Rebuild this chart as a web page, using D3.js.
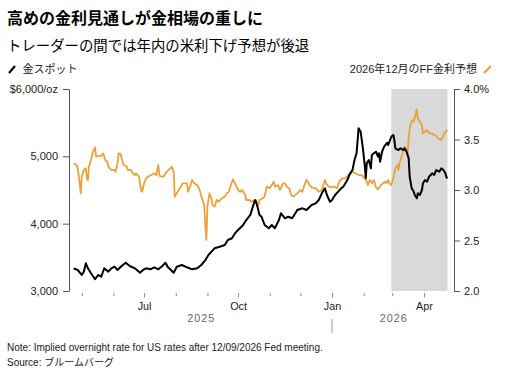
<!DOCTYPE html>
<html><head><meta charset="utf-8">
<script src="https://cdn.jsdelivr.net/npm/d3@7"></script>
<style>
body{margin:0;background:#fff}
svg{display:block}
text{font-family:"Liberation Sans",Arial,"Noto Sans CJK JP",sans-serif}
</style>
</head><body><svg id="c" width="508" height="379"></svg>
<script>
const titleText = "高めの金利見通しが金相場の重しに";
const subtitleText = "トレーダーの間では年内の米利下げ予想が後退";
const goldLabel = "金スポット";
const rateLabel = "2026年12月のFF金利予想";
const noteText = "Note: Implied overnight rate for US rates after 12/09/2026 Fed meeting.";
const sourceText = "Source: ブルームバーグ";

const goldDates = [
 "2025-04-23","2025-04-27","2025-05-01","2025-05-03","2025-05-05","2025-05-07","2025-05-10","2025-05-14","2025-05-17","2025-05-20","2025-05-23","2025-05-27","2025-05-30",
 "2025-06-02","2025-06-05","2025-06-09","2025-06-13","2025-06-17","2025-06-22","2025-06-27","2025-06-30",
 "2025-07-03","2025-07-07","2025-07-11","2025-07-15","2025-07-18","2025-07-22","2025-07-24","2025-07-30",
 "2025-08-02","2025-08-07","2025-08-12","2025-08-17","2025-08-22","2025-08-26","2025-08-30",
 "2025-09-02","2025-09-05","2025-09-08","2025-09-13","2025-09-18","2025-09-21","2025-09-25","2025-09-28",
 "2025-10-01","2025-10-06","2025-10-09","2025-10-13","2025-10-15","2025-10-17","2025-10-18","2025-10-20","2025-10-22","2025-10-24","2025-10-27","2025-10-31",
 "2025-11-03","2025-11-06","2025-11-10","2025-11-12","2025-11-16","2025-11-19","2025-11-23","2025-11-28",
 "2025-12-03","2025-12-07","2025-12-12","2025-12-16","2025-12-19","2025-12-22","2025-12-25","2025-12-27","2025-12-30",
 "2026-01-01","2026-01-04","2026-01-07","2026-01-10","2026-01-12","2026-01-16","2026-01-18","2026-01-21","2026-01-23","2026-01-25","2026-01-27","2026-01-29","2026-01-31",
 "2026-02-02","2026-02-03","2026-02-04","2026-02-06","2026-02-08","2026-02-09","2026-02-11","2026-02-13","2026-02-15","2026-02-16","2026-02-17","2026-02-19","2026-02-21","2026-02-24","2026-02-25","2026-02-28",
 "2026-03-02","2026-03-03","2026-03-04","2026-03-07","2026-03-09","2026-03-12","2026-03-13","2026-03-15","2026-03-17","2026-03-18","2026-03-20","2026-03-22","2026-03-23","2026-03-25","2026-03-26","2026-03-28","2026-03-30","2026-03-31",
 "2026-04-02","2026-04-04","2026-04-06","2026-04-09","2026-04-11","2026-04-13","2026-04-16","2026-04-18","2026-04-20","2026-04-22","2026-04-23","2026-04-24"
];
const goldValues = [
 3337,3312,3238,3287,3411,3337,3263,3174,3238,3212,3337,3287,3337,
 3361,3312,3371,3420,3371,3337,3272,3312,
 3337,3322,3352,3322,3361,3420,3361,3272,
 3361,3386,3352,3322,3337,3386,3460,
 3535,3584,3634,3658,3683,3757,3783,3857,
 3906,3980,4054,4129,4228,4326,4351,4252,4129,4103,3980,3931,
 3980,3931,4054,4154,4080,4103,4080,4203,
 4228,4203,4277,4302,4351,4451,4525,4426,4326,
 4351,4426,4475,4525,4549,4648,4723,4797,4945,5045,5416,5366,5143,
 4871,4674,4896,4945,4822,5020,5045,5069,4995,5045,4920,5069,5143,5202,5168,5291,
 5317,5242,5119,5094,5119,5094,5119,5069,4971,4697,4525,4475,4426,4377,4451,4426,4500,4599,
 4648,4623,4697,4748,4723,4797,4772,4822,4797,4748,4688,4674
];

const rateDates = [
 "2025-04-23","2025-04-26","2025-04-27","2025-04-29","2025-04-30","2025-05-01","2025-05-03","2025-05-05","2025-05-06","2025-05-07","2025-05-08","2025-05-10","2025-05-12","2025-05-14","2025-05-15","2025-05-18","2025-05-20","2025-05-22","2025-05-24","2025-05-26","2025-05-27","2025-05-30",
 "2025-06-02","2025-06-03","2025-06-05","2025-06-06","2025-06-08","2025-06-09","2025-06-11","2025-06-14","2025-06-15","2025-06-18","2025-06-20","2025-06-22","2025-06-23","2025-06-26","2025-06-28","2025-06-29",
 "2025-07-01","2025-07-03","2025-07-06","2025-07-08","2025-07-11","2025-07-13","2025-07-15","2025-07-16","2025-07-20","2025-07-22","2025-07-25","2025-07-28","2025-07-30","2025-07-31",
 "2025-08-02","2025-08-05","2025-08-08","2025-08-12","2025-08-13","2025-08-15","2025-08-17","2025-08-19","2025-08-22","2025-08-23","2025-08-25","2025-08-26","2025-08-28","2025-08-29","2025-08-30","2025-08-31",
 "2025-09-01","2025-09-03","2025-09-05","2025-09-06","2025-09-08","2025-09-10","2025-09-12","2025-09-15","2025-09-18","2025-09-20","2025-09-22","2025-09-24","2025-09-26","2025-09-28",
 "2025-10-01","2025-10-03","2025-10-05","2025-10-08","2025-10-09","2025-10-12","2025-10-14","2025-10-17","2025-10-19","2025-10-21","2025-10-22","2025-10-25","2025-10-27","2025-10-29",
 "2025-11-01","2025-11-03","2025-11-05","2025-11-06","2025-11-09","2025-11-11","2025-11-14","2025-11-16","2025-11-18","2025-11-20","2025-11-22","2025-11-24","2025-11-28",
 "2025-12-01","2025-12-03","2025-12-05","2025-12-07","2025-12-10","2025-12-12","2025-12-16","2025-12-19","2025-12-22","2025-12-24","2025-12-25","2025-12-27","2025-12-30",
 "2026-01-03","2026-01-06","2026-01-08","2026-01-11","2026-01-14","2026-01-17","2026-01-19","2026-01-21","2026-01-24","2026-01-27","2026-01-30",
 "2026-02-02","2026-02-04","2026-02-05","2026-02-07","2026-02-09","2026-02-11","2026-02-13","2026-02-15","2026-02-18","2026-02-20","2026-02-22","2026-02-23","2026-02-25","2026-02-26","2026-02-28",
 "2026-03-02","2026-03-04","2026-03-06","2026-03-07","2026-03-08","2026-03-10","2026-03-12","2026-03-13","2026-03-15","2026-03-16","2026-03-17","2026-03-19","2026-03-21","2026-03-22","2026-03-24","2026-03-25","2026-03-26","2026-03-28","2026-03-30","2026-03-31",
 "2026-04-02","2026-04-04","2026-04-06","2026-04-09","2026-04-11","2026-04-13","2026-04-15","2026-04-18","2026-04-19","2026-04-21","2026-04-23","2026-04-24"
];
const rateValues = [
 3.264,3.247,3.215,3.066,2.967,3.132,3.198,3.215,3.116,3.099,3.231,3.297,3.379,3.423,3.330,3.337,3.337,3.363,3.297,3.280,3.231,3.198,
 3.198,3.181,3.264,3.363,3.356,3.314,3.247,3.231,3.198,3.198,3.165,3.148,3.165,3.132,3.000,2.983,
 3.066,3.116,3.139,3.148,3.165,3.148,3.247,3.139,3.132,3.165,3.198,3.231,3.181,2.934,
 2.967,3.017,3.066,3.066,2.983,3.033,3.099,3.066,3.049,3.033,2.983,2.934,2.884,2.835,2.637,2.505,
 2.835,2.967,2.918,2.851,2.835,2.901,2.884,2.918,2.934,2.967,2.983,3.049,3.106,3.066,
 3.000,2.983,3.000,2.950,2.901,2.901,2.884,2.901,2.884,2.851,2.901,2.918,2.934,3.033,
 3.017,3.049,3.082,3.033,3.049,3.000,3.066,3.066,3.027,3.017,2.950,2.934,2.967,
 3.000,2.983,3.049,3.099,3.049,3.027,3.017,2.983,3.000,3.066,3.099,3.049,3.027,
 3.033,3.017,3.082,3.116,3.116,3.148,3.181,3.181,3.165,3.148,3.148,
 3.116,3.082,3.049,3.099,3.066,3.099,3.027,3.007,3.049,3.066,3.082,3.066,3.099,3.066,3.049,
 3.116,3.215,3.247,3.198,3.264,3.330,3.396,3.429,3.396,3.346,3.528,3.660,3.693,3.676,3.759,3.799,3.710,3.676,3.643,3.561,
 3.577,3.594,3.561,3.561,3.544,3.535,3.512,3.495,3.522,3.561,3.587,3.594
];

const goldTicks = [3000, 4000, 5000, 6000];
const rateTicks = [2.0, 2.5, 3.0, 3.5, 4.0];
const monthTickDates = ["2025-05-01","2025-06-01","2025-07-01","2025-08-01","2025-09-01","2025-10-01","2025-11-01","2025-12-01","2026-01-01","2026-02-01","2026-03-01","2026-04-01"];
const monthLabels = {"2025-07-01":"Jul","2025-10-01":"Oct","2026-01-01":"Jan","2026-04-01":"Apr"};
const yearLabels = ["2025","2026"];
const shadeRange = ["2026-02-28","2026-04-24"];
const xDomain = ["2025-04-18","2026-04-30"];

const goldColor = "#000000";
const rateColor = "#e9a23b";

const parse = d3.timeParse("%Y-%m-%d");
const svg = d3.select("#c");

const L = 69, R = 454, T = 89, B = 291;
const x = d3.scaleTime().domain(xDomain.map(parse)).range([68.5, 453.6]);
const yL = d3.scaleLinear().domain([3000, 6000]).range([B, T]);
const yR = d3.scaleLinear().domain([2, 4]).range([B, T]);
const axisFont = "Liberation Sans, Arial, sans-serif";

// Titles
svg.append("text").attr("x", 7).attr("y", 24).attr("font-size", 16).attr("font-weight", "bold").attr("fill", "#000").text(titleText);
svg.append("text").attr("x", 7).attr("y", 51).attr("font-size", 14.4).attr("fill", "#000").text(subtitleText);

// Legend
svg.append("line").attr("x1", 9).attr("y1", 73).attr("x2", 15).attr("y2", 66).attr("stroke", goldColor).attr("stroke-width", 2.2);
svg.append("text").attr("x", 22.5).attr("y", 73).attr("font-size", 11).attr("fill", "#222").text(goldLabel);
svg.append("text").attr("x", 477).attr("y", 73).attr("text-anchor", "end").attr("font-size", 11).attr("fill", "#222").text(rateLabel);
svg.append("line").attr("x1", 484).attr("y1", 73).attr("x2", 491).attr("y2", 66).attr("stroke", rateColor).attr("stroke-width", 2.2);

// Shade
const s0 = x(parse(shadeRange[0])), s1 = x(parse(shadeRange[1]));
svg.append("rect").attr("x", s0).attr("y", T).attr("width", s1 - s0).attr("height", B - T).attr("fill", "#d9d9d9");

// Left axis
const axL = svg.append("g").attr("transform", `translate(${L},0)`)
  .call(d3.axisLeft(yL).tickValues(goldTicks).tickSize(6).tickSizeOuter(0).tickPadding(5)
    .tickFormat(d => d === 6000 ? "$6,000/oz" : d3.format(",")(d)));
axL.select(".domain").attr("stroke", "#555");
axL.selectAll(".tick line").attr("stroke", "#555");
axL.selectAll("text").attr("font-size", 11).attr("fill", "#222").attr("font-family", axisFont);

// Right axis
const axR = svg.append("g").attr("transform", `translate(${R},0)`)
  .call(d3.axisRight(yR).tickValues(rateTicks).tickSize(6).tickSizeOuter(0).tickPadding(4)
    .tickFormat(d => d === 4 ? "4.0%" : d3.format(".1f")(d)));
axR.select(".domain").attr("stroke", "#555");
axR.selectAll(".tick line").attr("stroke", "#555");
axR.selectAll("text").attr("font-size", 11).attr("fill", "#222").attr("font-family", axisFont);

// Bottom axis
const axB = svg.append("g").attr("transform", `translate(0,${B + 2})`)
  .call(d3.axisBottom(x).tickValues(monthTickDates.map(parse)).tickSize(3).tickPadding(6)
    .tickFormat(d => monthLabels[d3.timeFormat("%Y-%m-%d")(d)] || ""));
axB.select(".domain").remove();
axB.selectAll(".tick line").attr("stroke", "#888")
  .attr("y2", d => monthLabels[d3.timeFormat("%Y-%m-%d")(d)] ? 4.5 : 3);
axB.selectAll("text").attr("font-size", 10.8).attr("fill", "#222").attr("font-family", axisFont).attr("y", 9);

// Year labels
const yStart = [x.domain()[0], parse("2026-01-01")];
const yEnd = [parse("2026-01-01"), x.domain()[1]];
yearLabels.forEach((lab, i) => {
  svg.append("text").attr("x", (x(yStart[i]) + x(yEnd[i])) / 2 + 1).attr("y", 322)
    .attr("text-anchor", "middle").attr("font-size", 10.8).attr("letter-spacing", 1).attr("fill", "#666").text(lab);
});
const jan = x(parse("2026-01-01"));
svg.append("line").attr("x1", jan).attr("x2", jan).attr("y1", 319).attr("y2", 333).attr("stroke", "#999").attr("stroke-width", 1);

// Lines
const rateLine = d3.line().x((d, i) => x(parse(rateDates[i]))).y(d => yR(d));
svg.append("path").datum(rateValues).attr("d", rateLine).attr("fill", "none").attr("stroke", rateColor).attr("stroke-width", 1.8).attr("stroke-linejoin", "round");
const goldLine = d3.line().x((d, i) => x(parse(goldDates[i]))).y(d => yL(d));
svg.append("path").datum(goldValues).attr("d", goldLine).attr("fill", "none").attr("stroke", goldColor).attr("stroke-width", 2).attr("stroke-linejoin", "round");

// Footnotes
svg.append("text").attr("x", 7).attr("y", 351).attr("font-size", 10).attr("fill", "#222").text(noteText);
svg.append("text").attr("x", 7).attr("y", 366).attr("font-size", 10).attr("fill", "#222").text(sourceText);
</script>
</body></html>
